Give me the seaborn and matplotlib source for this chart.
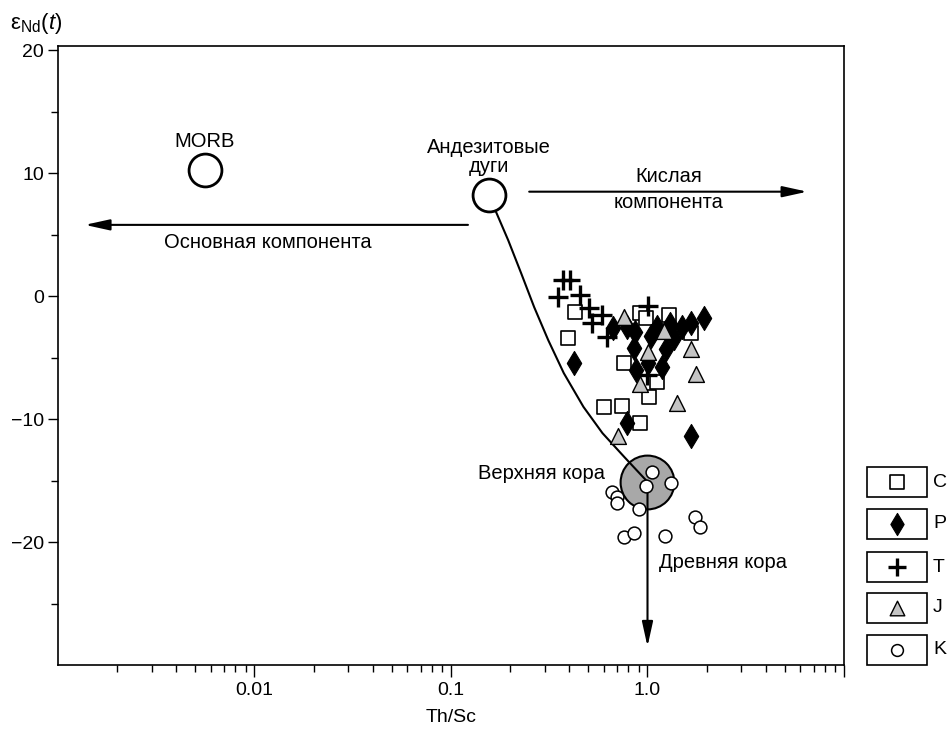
import numpy as np
import pandas as pd
import matplotlib
matplotlib.use("Agg")
import matplotlib.pyplot as plt
import seaborn as sns
from matplotlib.patches import Rectangle
from matplotlib.ticker import FixedLocator, FixedFormatter, NullFormatter

# ---------------- data ----------------
c_x = [0.43, 0.395, 0.92, 0.98, 1.28, 1.66, 0.76, 1.12, 1.02, 0.60, 0.745, 0.92]
c_y = [-1.3, -3.4, -1.4, -1.8, -1.5, -3.0, -5.4, -7.0, -8.2, -9.0, -8.9, -10.3]

p_x = [0.425, 0.67, 0.79, 0.86, 1.04, 1.12, 1.36, 1.49, 1.66, 1.93, 0.85, 1.24,
       0.87, 1.01, 1.18, 0.79, 1.66, 1.30]
p_y = [-5.45, -2.6, -2.5, -2.9, -3.2, -2.5, -3.4, -2.5, -2.2, -1.8, -4.2, -4.3,
       -6.0, -5.45, -5.8, -10.3, -11.4, -2.3]

t_x = [0.372, 0.404, 0.352, 0.455, 0.506, 0.589, 0.524, 0.625, 1.01, 1.0]
t_y = [1.3, 1.3, -0.1, 0.1, -1.0, -1.5, -2.2, -3.3, -0.8, -6.4]

j_x = [0.755, 1.21, 1.01, 1.66, 1.76, 0.92, 1.41, 0.71]
j_y = [-1.7, -2.85, -4.55, -4.3, -6.3, -7.15, -8.7, -11.4]

k_x = [1.06, 0.98, 1.31, 0.66, 0.70, 0.70, 0.91, 1.74, 1.86, 0.76, 0.85, 1.23]
k_y = [-14.3, -15.4, -15.2, -15.9, -16.3, -16.8, -17.3, -18.0, -18.8, -19.6, -19.3, -19.5]

# reference components
morb_x, morb_y = [0.0056], [10.3]
arc_x, arc_y = [0.156], [8.2]
crust_x, crust_y = [1.0], [-15.1]

# mixing curve (andesitic arcs -> upper crust)
mix_x = [0.156, 0.1655, 0.1955, 0.2275, 0.265, 0.3126, 0.375, 0.472, 0.59, 0.764, 1.0]
mix_y = [8.2, 7.24, 4.55, 1.87, -0.89, -3.58, -6.26, -9.0, -11.14, -13.1, -15.1]

legend_labels = ["C", "P", "T", "J", "K"]
x_ticks = [0.01, 0.1, 1.0, 10.0]
x_tick_labels = ["0.01", "0.1", "1.0", ""]
y_ticks = [20, 10, 0, -10, -20]

# ---------------- style ----------------
sns.set_style("ticks")
plt.rcParams["font.family"] = ["Liberation Sans", "DejaVu Sans"]
plt.rcParams["mathtext.fontset"] = "custom"
plt.rcParams["mathtext.rm"] = "Liberation Sans"
plt.rcParams["mathtext.it"] = "Liberation Sans:italic"
plt.rcParams["axes.unicode_minus"] = True
plt.rcParams["text.color"] = "black"
plt.rcParams["axes.labelcolor"] = "black"
plt.rcParams["xtick.color"] = "black"
plt.rcParams["ytick.color"] = "black"

W, H = 951, 729
fig = plt.figure(figsize=(W / 100, H / 100), dpi=100)
ax = fig.add_axes([58 / W, (H - 665) / H, (844 - 58) / W, (665 - 46) / H])

FS = 14.5
grey_fill = "#a8a8a8"
tri_fill = "#c4c4c4"

# upper crust grey disk
sns.scatterplot(x=crust_x, y=crust_y, ax=ax, s=1500, marker="o", color=grey_fill,
                edgecolor="black", linewidth=1.5, zorder=2, legend=False)
# mixing curve
sns.lineplot(x=mix_x, y=mix_y, ax=ax, sort=False, color="black", linewidth=1.5,
             zorder=3, estimator=None)
# old crust arrow
ax.annotate("", xy=(crust_x[0], -28.5), xytext=(crust_x[0], crust_y[0]),
            arrowprops=dict(arrowstyle="-|>,head_length=1.0,head_width=0.22",
                            mutation_scale=15, color="black", lw=1.5,
                            shrinkA=0, shrinkB=0), zorder=3)
# mafic component arrow
ax.annotate("", xy=(0.00137, 5.8), xytext=(0.122, 5.8),
            arrowprops=dict(arrowstyle="-|>,head_length=1.0,head_width=0.22",
                            mutation_scale=15, color="black", lw=1.5,
                            shrinkA=0, shrinkB=0))
# felsic component arrow
ax.annotate("", xy=(6.5, 8.5), xytext=(0.25, 8.5),
            arrowprops=dict(arrowstyle="-|>,head_length=1.0,head_width=0.22",
                            mutation_scale=15, color="black", lw=1.5,
                            shrinkA=0, shrinkB=0))

# MORB & andesitic arcs
sns.scatterplot(x=morb_x + arc_x, y=morb_y + arc_y, ax=ax, s=560, marker="o",
                facecolor="white", edgecolor="black", linewidth=2, zorder=4,
                legend=False)

# samples
sq_kw = dict(s=110, marker="s", facecolor="white", edgecolor="black", linewidth=1.2)
di_kw = dict(s=150, marker="d", color="black", edgecolor="black", linewidth=0.8)
pl_kw = dict(s=190, marker="+", color="black", linewidth=2.4)
tr_kw = dict(s=130, marker="^", facecolor=tri_fill, edgecolor="black", linewidth=1.0)
ci_kw = dict(s=85, marker="o", facecolor="white", edgecolor="black", linewidth=1.1)

sns.scatterplot(x=c_x, y=c_y, ax=ax, zorder=5, legend=False, **sq_kw)
sns.scatterplot(x=p_x, y=p_y, ax=ax, zorder=6, legend=False, **di_kw)
sns.scatterplot(x=j_x, y=j_y, ax=ax, zorder=6, legend=False, **tr_kw)
sns.scatterplot(x=t_x, y=t_y, ax=ax, zorder=7, legend=False, **pl_kw)
sns.scatterplot(x=k_x, y=k_y, ax=ax, zorder=7, legend=False, **ci_kw)

# annotations
ax.text(0.0056, 12.6, "MORB", ha="center", va="center", fontsize=FS)
ax.text(0.156, 11.35, "Андезитовые\nдуги", ha="center", va="center",
        fontsize=FS, linespacing=1.0, multialignment="center")
ax.text(0.01164, 4.4, "Основная компонента", ha="center", va="center", fontsize=FS)
ax.text(1.28, 9.7, "Кислая", ha="center", va="center", fontsize=FS)
ax.text(1.28, 7.6, "компонента", ha="center", va="center", fontsize=FS)
ax.text(0.61, -14.4, "Верхняя кора", ha="right", va="center", fontsize=FS)
ax.text(1.14, -21.7, "Древняя кора", ha="left", va="center", fontsize=FS)

# axes
ax.set_xscale("log")
ax.set_xlim(0.001, 10)
ax.set_ylim(-30, 20.35)
ax.xaxis.set_major_locator(FixedLocator(x_ticks))
ax.xaxis.set_major_formatter(FixedFormatter(x_tick_labels))
minor = [m * 10.0 ** e for e in range(-3, 1) for m in range(2, 10)]
ax.xaxis.set_minor_locator(FixedLocator(minor))
ax.xaxis.set_minor_formatter(NullFormatter())
ax.yaxis.set_major_locator(FixedLocator(y_ticks))
ax.yaxis.set_minor_locator(FixedLocator([15, 5, -5, -15, -25]))
ax.tick_params(axis="x", which="major", length=8.5, width=1, direction="out",
               labelsize=14, pad=4, colors="black")
ax.tick_params(axis="x", which="minor", length=5, width=1, direction="out",
               colors="black")
ax.tick_params(axis="y", which="major", length=7, width=1, direction="out",
               labelsize=14, pad=3, colors="black")
ax.tick_params(axis="y", which="minor", length=5, width=1, direction="out",
               colors="black")
for sp in ax.spines.values():
    sp.set_visible(True)
    sp.set_linewidth(1.2)
    sp.set_color("black")
ax.set_xlabel("Th/Sc", fontsize=14, labelpad=7, color="black")
ax.set_ylabel("")
ax.grid(False)

fig.text(10 / W, 1 - 23 / H, r"$\mathrm{ε}_{\mathrm{Nd}}(\mathit{t})$", ha="left",
         va="center", fontsize=16, color="black")

# legend panel (pixel coordinates)
lax = fig.add_axes([0, 0, 1, 1], zorder=10)
lax.set_xlim(0, W)
lax.set_ylim(H, 0)
lax.axis("off")
lax.patch.set_alpha(0)
centers = [482, 524, 567, 608, 650]
kws = [sq_kw, di_kw, pl_kw, tr_kw, ci_kw]
for lab, cy, kw in zip(legend_labels, centers, kws):
    lax.add_patch(Rectangle((867, cy - 15), 60, 30, facecolor="white",
                            edgecolor="black", linewidth=1.2))
    k2 = dict(kw)
    k2["s"] = kw["s"] * 0.85
    sns.scatterplot(x=[897], y=[cy], ax=lax, legend=False, zorder=11, **k2)
    lax.text(933, cy, lab, ha="left", va="center", fontsize=14, color="black")
lax.set_xlim(0, W)
lax.set_ylim(H, 0)

fig.savefig("out.png", dpi=100)
